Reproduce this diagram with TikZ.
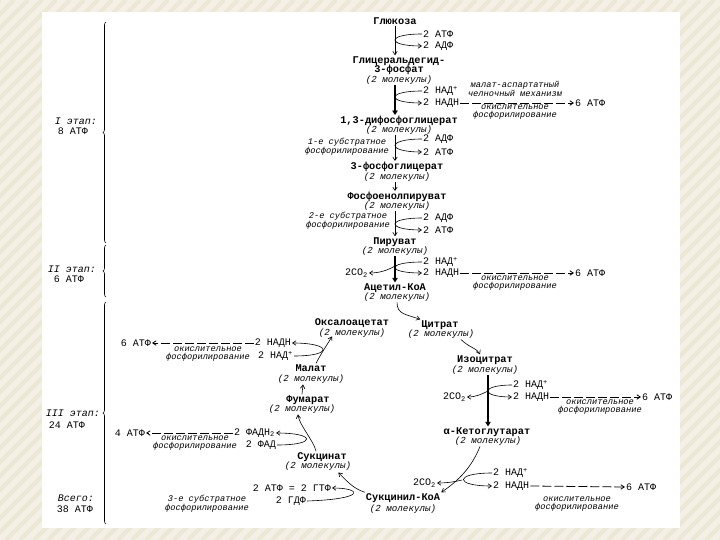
\documentclass[tikz,border=0pt]{standalone}
\usepackage{fontspec}
\setmainfont{Liberation Mono}
\usetikzlibrary{arrows.meta,decorations.pathreplacing}
\definecolor{bgc}{RGB}{244,240,229}
\definecolor{stc}{RGB}{237,231,213}
\begin{document}
\begin{tikzpicture}[x=1pt,y=1pt,
  nm/.style={font=\fontsize{10.3}{11}\selectfont\bfseries, inner sep=1pt},
  mol/.style={font=\fontsize{9.2}{10}\selectfont\itshape, inner sep=1pt},
  cof/.style={font=\fontsize{10}{11}\selectfont, inner sep=1pt},
  notetxt/.style={font=\fontsize{8.7}{8}\selectfont\itshape, inner sep=0.5pt, align=center},
  lbl/.style={font=\fontsize{10}{11}\selectfont, inner sep=1pt},
  arr/.style={-{Straight Barb[length=3.5pt,width=4.5pt]}, line width=0.6pt},
  thk/.style={arr, line width=1.1pt},
  dsh/.style={arr, dash pattern=on 9pt off 3pt, line width=0.8pt},
  brc/.style={decorate, decoration={brace, amplitude=3pt}, line width=0.6pt}]
\useasboundingbox (0,0) rectangle (720,-540);
\fill[bgc] (0,0) rectangle (720,-540);
\begin{scope}
  \clip (0,0) rectangle (720,-540);
  \foreach \i in {0,14,...,1274} \draw[stc, line width=4pt] (\i-540,-540) -- (\i,0);
\end{scope}
\fill[white] (42,-12) rectangle (680,-528);

% ---------- Stage I: glycolysis ----------
\node[nm] (glu) at (395,-21) {Глюкоза};
\node[cof, anchor=west] (atp1) at (422,-34) {2 АТФ};
\node[cof, anchor=west] (adp1) at (422,-46) {2 АДФ};
\node[nm] (g3p1) at (399,-61) {Глицеральдегид-};
\node[nm] (g3p2) at (399,-70) {3-фосфат};
\node[mol] (g3pm) at (399,-80) {(2 молекулы)};
\node[cof, anchor=west] (nad1) at (422,-91) {2 НАД\textsuperscript{+}};
\node[cof, anchor=west] (nadh1) at (422,-103) {2 НАДН};
\node[notetxt] (shut) at (515,-89) {малат-аспартатный\\челночный механизм};
\node[cof, anchor=west] (atp6a) at (574,-103) {6 АТФ};
\node[notetxt] (ox1) at (515,-112) {окислительное\\фосфорилирование};
\node[nm] (dpg) at (399,-121) {1,3-дифосфоглицерат};
\node[mol] (dpgm) at (399,-130) {(2 молекулы)};
\node[notetxt] (sub1) at (347,-147) {1-е субстратное\\фосфорилирование};
\node[cof, anchor=west] (adp2) at (422,-139) {2 АДФ};
\node[cof, anchor=west] (atp2) at (422,-152) {2 АТФ};
\node[nm] (pg3) at (397,-167) {3-фосфоглицерат};
\node[mol] (pg3m) at (397,-177) {(2 молекулы)};
\node[nm] (pep) at (397,-197) {Фосфоенолпируват};
\node[mol] (pepm) at (397,-206) {(2 молекулы)};
\node[notetxt] (sub2) at (348,-221) {2-е субстратное\\фосфорилирование};
\node[cof, anchor=west] (adp3) at (422,-218) {2 АДФ};
\node[cof, anchor=west] (atp3) at (422,-230) {2 АТФ};
\node[nm] (pyr) at (395,-242) {Пируват};
\node[mol] (pyrm) at (395,-251) {(2 молекулы)};
\node[cof, anchor=west] (nad2) at (422,-262) {2 НАД\textsuperscript{+}};
\node[cof, anchor=west] (nadh2) at (422,-273) {2 НАДН};
\node[cof, anchor=east] (co2a) at (369,-273) {2CO\textsubscript{2}};
\node[cof, anchor=west] (atp6b) at (574,-273) {6 АТФ};
\node[notetxt] (ox2) at (515,-283) {окислительное\\фосфорилирование};
\node[nm] (aca) at (395,-288) {Ацетил-КоА};
\node[mol] (acam) at (397,-297) {(2 молекулы)};

% main column arrows
\draw[arr] (glu.south) -- (glu.south |- g3p1.north);
\draw[thk] (g3pm.south -| glu.south) -- (dpg.north -| glu.south);
\draw[arr] (dpgm.south -| glu.south) -- (pg3.north -| glu.south);
\draw[arr] (pg3m.south -| glu.south) -- (pep.north -| glu.south);
\draw[arr] (pepm.south -| glu.south) -- (pyr.north -| glu.south);
\draw[thk] (pyrm.south -| glu.south) -- (aca.north -| glu.south);

% side branches
\draw[arr] (atp1.west) .. controls +(-36,0) and +(-36,0) .. (adp1.west);
\draw[arr] (nad1.west) .. controls +(-36,0) and +(-36,0) .. (nadh1.west);
\draw[arr] (adp2.west) .. controls +(-36,0) and +(-36,0) .. (atp2.west);
\draw[arr] (adp3.west) .. controls +(-36,0) and +(-36,0) .. (atp3.west);
\draw[arr] (nad2.west) .. controls +(-36,0) and +(-36,0) .. (nadh2.west);
\coordinate (pb) at (395,-266);
\draw[arr] (pb) .. controls (388,-270) and (380,-273) .. (co2a.east);
\draw[dsh] (nadh1.east) -- (atp6a.west);
\draw[dsh] (nadh2.east) -- (atp6b.west);

% ---------- Stage III: citric acid cycle ----------
\node[nm] (oaa) at (352,-323) {Оксалоацетат};
\node[mol] (oaam) at (352,-333) {(2 молекулы)};
\node[nm] (cit) at (440,-325) {Цитрат};
\node[mol] (citm) at (441,-334) {(2 молекулы)};
\node[nm] (iso) at (485,-360) {Изоцитрат};
\node[mol] (isom) at (485,-370) {(2 молекулы)};
\node[nm] (akg) at (487,-432) {α-Кетоглутарат};
\node[mol] (akgm) at (488,-441) {(2 молекулы)};
\node[nm] (sca) at (403,-498) {Сукцинил-КоА};
\node[mol] (scam) at (403,-509) {(2 молекулы)};
\node[nm] (suc) at (322,-457) {Сукцинат};
\node[mol] (sucm) at (318,-466) {(2 молекулы)};
\node[nm] (fum) at (308,-400) {Фумарат};
\node[mol] (fumm) at (302,-409) {(2 молекулы)};
\node[nm] (mal) at (311,-368) {Малат};
\node[mol] (malm) at (311,-379) {(2 молекулы)};

% isocitrate branch
\node[cof, anchor=west] (nad3) at (512,-385) {2 НАД\textsuperscript{+}};
\node[cof, anchor=west] (nadh3) at (512,-397) {2 НАДН};
\node[cof, anchor=east] (co2b) at (467,-397) {2CO\textsubscript{2}};
\node[cof, anchor=west] (atp6c) at (641,-397) {6 АТФ};
\node[notetxt] (ox3) at (600,-407) {окислительное\\фосфорилирование};
% ketoglutarate branch
\node[cof, anchor=west] (nad4) at (492,-473) {2 НАД\textsuperscript{+}};
\node[cof, anchor=west] (nadh4) at (492,-486) {2 НАДН};
\node[cof, anchor=east] (co2c) at (437,-483) {2CO\textsubscript{2}};
\node[cof, anchor=west] (atp6d) at (625,-487) {6 АТФ};
\node[notetxt] (ox4) at (577,-504) {окислительное\\фосфорилирование};
% succinyl-CoA branch
\node[cof, anchor=east] (gtp) at (332,-488) {2 АТФ = 2 ГТФ};
\node[cof, anchor=east] (gdp) at (307,-501) {2 ГДФ};
\node[notetxt] (sub3) at (207,-504) {3-е субстратное\\фосфорилирование};
% succinate branch
\node[cof, anchor=east] (fadh) at (276,-433) {2 ФАДН\textsubscript{2}};
\node[cof, anchor=east] (fad) at (277,-445) {2 ФАД};
\node[cof, anchor=east] (atp4) at (146,-433) {4 АТФ};
\node[notetxt] (ox5) at (195,-443) {окислительное\\фосфорилирование};
% malate branch
\node[cof, anchor=east] (nadh5) at (292,-343) {2 НАДН};
\node[cof, anchor=east] (nad5) at (294,-356) {2 НАД\textsuperscript{+}};
\node[cof, anchor=east] (atp6e) at (152,-343) {6 АТФ};
\node[notetxt] (ox6) at (208,-354) {окислительное\\фосфорилирование};

% cycle arrows
\draw[arr] (acam.south) .. controls +(0,-12) and +(-14,5) .. (cit.north west);
\draw[arr] ([xshift=20pt]citm.south) .. controls +(8,-8) and +(-3,6) .. ([xshift=-5pt]iso.north);
\draw[thk] ([xshift=3pt]isom.south) -- ([xshift=3pt]isom.south |- akg.north);
\draw[arr] ([xshift=-8pt]akgm.south) .. controls +(-8,-20) and +(18,12) .. (sca.north east);
\draw[arr] (sca.north west) .. controls +(-12,4) and +(8,-8) .. ([xshift=-14pt,yshift=-1pt]sucm.south east);
\draw[arr] ([xshift=-6pt]suc.north) .. controls +(-2,10) and +(1,-10) .. ([xshift=-4pt]fumm.south);
\draw[arr] ([xshift=-6pt]fum.north) -- ([xshift=-8pt]malm.south);
\draw[arr] ([xshift=5pt]mal.north) .. controls +(4,8) and +(-6,-10) .. ([xshift=-20pt,yshift=2pt]oaam.south);

% cycle side branches
\coordinate (ib) at (488,-391);
\draw[arr] (nad3.west) .. controls +(-32,0) and +(-32,0) .. (nadh3.west);
\draw[arr] (ib) .. controls (482,-394) and (476,-397) .. (co2b.east);
\draw[dsh] (nadh3.east) -- (atp6c.west);
\coordinate (kb) at (462,-480);
\draw[arr] (nad4.west) .. controls +(-38,0) and +(-38,0) .. (nadh4.west);
\draw[arr] (kb) .. controls (454,-482) and (446,-483) .. (co2c.east);
\draw[dsh] (nadh4.east) -- (atp6d.west);
\draw[arr] (gdp.east) .. controls +(60,2) and +(30,0) .. (gtp.east);
\draw[arr] (fad.east) .. controls +(40,0) and +(40,0) .. (fadh.east);
\draw[dsh] (fadh.west) -- (atp4.east);
\draw[arr] (nad5.east) .. controls +(40,0) and +(40,0) .. (nadh5.east);
\draw[dsh] (nadh5.west) -- (atp6e.east);

% ---------- left braces ----------
\coordinate (b1a) at (106,-243); \coordinate (b1b) at (106,-22);
\coordinate (b2a) at (106,-297); \coordinate (b2b) at (106,-245);
\coordinate (b3a) at (106,-524); \coordinate (b3b) at (106,-302);
\draw[brc] (b1a) -- (b1b);
\draw[brc] (b2a) -- (b2b);
\draw[brc] (b3a) -- (b3b);
\node[lbl, font=\fontsize{10}{11}\selectfont\itshape] (s1) at (76,-121) {I этап:};
\node[lbl] (s1n) at (73,-131) {8 АТФ};
\node[lbl, font=\fontsize{10}{11}\selectfont\itshape] (s2) at (72,-269) {II этап:};
\node[lbl] (s2n) at (69,-279) {6 АТФ};
\node[lbl, font=\fontsize{10}{11}\selectfont\itshape] (s3) at (73,-413) {III этап:};
\node[lbl] (s3n) at (67,-425) {24 АТФ};
\node[lbl, font=\fontsize{10}{11}\selectfont\itshape] (s4) at (76,-498) {Всего:};
\node[lbl] (s4n) at (75,-509) {38 АТФ};
\end{tikzpicture}
\end{document}
